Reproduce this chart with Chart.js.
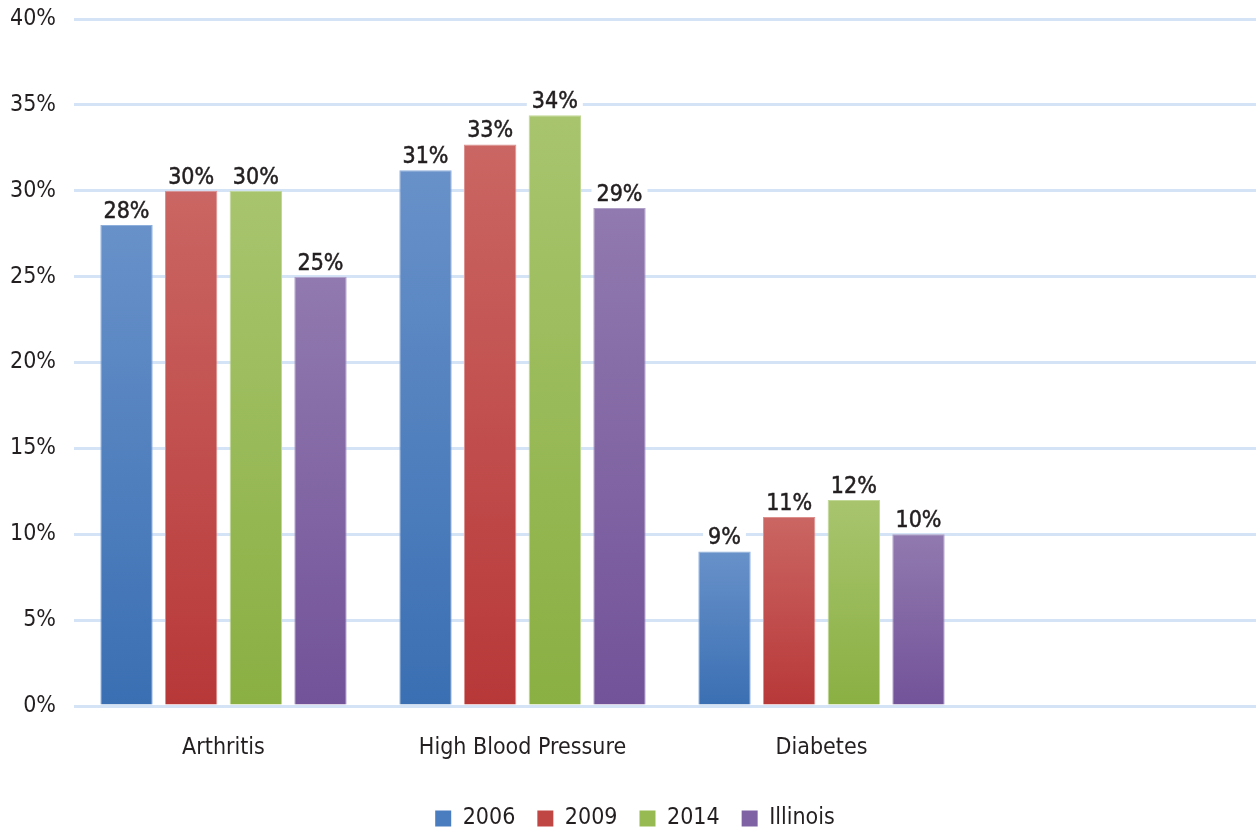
<!DOCTYPE html>
<html>
<head>
<meta charset="utf-8">
<script src="https://cdn.jsdelivr.net/npm/chart.js@4/dist/chart.umd.min.js"></script>
<style>
  html, body { margin: 0; padding: 0; background: #fff; overflow: hidden; }
  #wrap { width: 1294px; height: 831px; }
</style>
</head>
<body>
<div id="wrap"><canvas id="c" width="1294" height="831"></canvas></div>
<script>
// Prevalence of chronic conditions, by survey year and statewide comparison
const categories = ['Arthritis', 'High Blood Pressure', 'Diabetes', ''];
const seriesNames = ['2006', '2009', '2014', 'Illinois'];
const values2006 = [28, 31.2, 9, null];
const values2009 = [30, 32.7, 11, null];
const values2014 = [30, 34.4, 12, null];
const valuesIllinois = [25, 29, 10, null];
const yTicks = [0, 5, 10, 15, 20, 25, 30, 35, 40];

const FONT = "'Liberation Sans Narrow', 'DejaVu Sans Condensed', 'Roboto', sans-serif";
const TEXT = '#231f20';

// light (top) / dark (bottom) shades per series
const shades = [
  { top: '#6891c9', bottom: '#3a6fb3', edge: '#8eaedb', legend: '#4a7dbf' },
  { top: '#ca6663', bottom: '#b83838', edge: '#dc908e', legend: '#c04644' },
  { top: '#a8c56e', bottom: '#8aaf42', edge: '#c1d896', legend: '#97ba52' },
  { top: '#917aaf', bottom: '#725299', edge: '#b09fc7', legend: '#7e62a3' }
];

function barGradient(shade) {
  return function (ctx) {
    const chart = ctx.chart;
    const area = chart.chartArea;
    if (!area || ctx.type !== 'data' || ctx.parsed == null) return shade.legend;
    const y = chart.scales.y;
    const top = y.getPixelForValue(ctx.parsed.y);
    const bottom = y.getPixelForValue(0);
    if (!isFinite(top) || bottom - top < 1) return shade.legend;
    const g = chart.ctx.createLinearGradient(0, top, 0, bottom);
    g.addColorStop(0, shade.top);
    g.addColorStop(1, shade.bottom);
    return g;
  };
}

const seriesValues = [values2006, values2009, values2014, valuesIllinois];
const datasets = seriesNames.map((name, i) => ({
  label: name,
  data: seriesValues[i],
  backgroundColor: barGradient(shades[i]),
  borderColor: shades[i].edge,
  borderWidth: 1,
  categoryPercentage: 0.865,
  barPercentage: 0.81
}));

function labelText(v) { return Math.round(v) + '%'; }

// White boxes behind value labels (under the bars), then the labels on top
const valueLabels = {
  id: 'valueLabels',
  beforeDatasetsDraw(chart) {
    const ctx = chart.ctx;
    ctx.save();
    ctx.font = '23px ' + FONT;
    chart.data.datasets.forEach((ds, di) => {
      chart.getDatasetMeta(di).data.forEach((bar, i) => {
        const v = ds.data[i];
        if (v == null) return;
        const w = ctx.measureText(labelText(v)).width + 10;
        ctx.fillStyle = '#ffffff';
        ctx.fillRect(bar.x - w / 2, bar.y - 32, w, 28);
      });
    });
    ctx.restore();
  },
  afterDatasetsDraw(chart) {
    const ctx = chart.ctx;
    ctx.save();
    ctx.font = '23px ' + FONT;
    ctx.fillStyle = TEXT;
    ctx.strokeStyle = TEXT;
    ctx.lineWidth = 0.5;
    ctx.textAlign = 'center';
    ctx.textBaseline = 'alphabetic';
    chart.data.datasets.forEach((ds, di) => {
      chart.getDatasetMeta(di).data.forEach((bar, i) => {
        const v = ds.data[i];
        if (v == null) return;
        ctx.fillText(labelText(v), bar.x, bar.y - 7);
        ctx.strokeText(labelText(v), bar.x, bar.y - 7);
      });
    });
    ctx.restore();
  }
};

const chart = new Chart(document.getElementById('c'), {
  type: 'bar',
  data: { labels: categories, datasets },
  plugins: [valueLabels],
  options: {
    responsive: false,
    animation: false,
    layout: { padding: { top: 19, right: 24, left: 0, bottom: 0 } },
    plugins: {
      tooltip: { enabled: false },
      legend: {
        position: 'bottom',
        labels: {
          boxWidth: 16,
          boxHeight: 16,
          padding: 22,
          color: TEXT,
          font: { family: FONT, size: 23 },
          generateLabels(chart) {
            return chart.data.datasets.map((ds, i) => ({
              text: ds.label,
              fillStyle: shades[i].legend,
              strokeStyle: shades[i].legend,
              lineWidth: 0,
              fontColor: TEXT,
              datasetIndex: i
            }));
          }
        }
      }
    },
    scales: {
      x: {
        grid: { display: false },
        border: { display: false },
        ticks: { color: TEXT, font: { family: FONT, size: 23 }, padding: 20 },
        afterFit(scale) { scale.height = 79; }
      },
      y: {
        min: 0,
        max: 40,
        afterBuildTicks(scale) { scale.ticks = yTicks.map(v => ({ value: v })); },
        ticks: {
          color: TEXT,
          font: { family: FONT, size: 23 },
          padding: 18,
          callback: v => v + '%'
        },
        grid: { color: '#d5e3f6', lineWidth: 3, drawTicks: false },
        border: { display: false },
        afterFit(scale) {
          scale.width = 74;
          scale.paddingTop = 0;
          scale.paddingBottom = 0;
        }
      }
    }
  }
});

// keep the legend band compact at the bottom of the canvas
const legendFit = chart.legend.fit;
chart.legend.fit = function () {
  legendFit.call(this);
  this.height = 46;
};
chart.update();
</script>
</body>
</html>
